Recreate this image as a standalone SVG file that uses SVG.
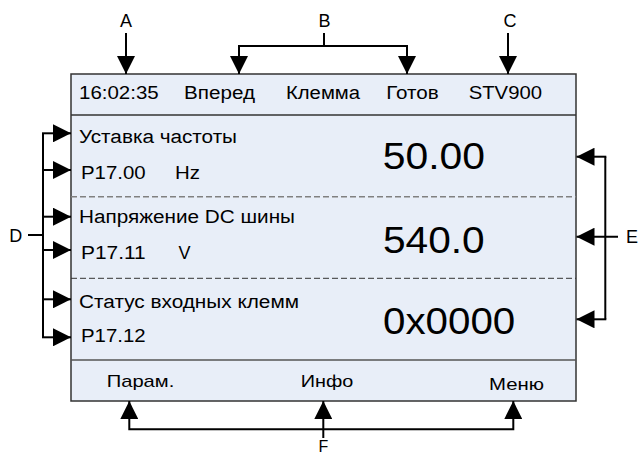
<svg xmlns="http://www.w3.org/2000/svg" width="638" height="457" viewBox="0 0 638 457">
<style>
text{font-family:"Liberation Sans",Arial,sans-serif;fill:#000}
.t{font-size:18px}
.big{font-size:37px}
.ft{font-size:17px}
.lbl{font-size:18px}
.c{stroke:#000;stroke-width:2;fill:none}
</style>
<defs>
<marker id="ah" markerUnits="userSpaceOnUse" markerWidth="18" markerHeight="18" viewBox="0 0 17 17" refX="17" refY="8.5" orient="auto">
<path d="M0,0 L17,8.5 L0,17 Z" fill="#000"/>
</marker>
</defs>
<g id="screen">
<rect x="71" y="74" width="505" height="327" fill="#E8EEF8" stroke="#333" stroke-width="1.5"/>
<line x1="71" y1="115" x2="576" y2="115" stroke="#333" stroke-width="1.5"/>
<line x1="71" y1="360" x2="576" y2="360" stroke="#555" stroke-width="1.5"/>
<line x1="71" y1="196.7" x2="576" y2="196.7" stroke="#808080" stroke-width="1.6" stroke-dasharray="6 3"/>
<line x1="71" y1="278.3" x2="576" y2="278.3" stroke="#333" stroke-width="1" stroke-dasharray="6 3"/>
</g>
<g id="header">
<text class="t" x="79" y="99.3" textLength="79.7" lengthAdjust="spacingAndGlyphs">16:02:35</text>
<text class="t" x="184" y="99.3" textLength="71" lengthAdjust="spacingAndGlyphs">Вперед</text>
<text class="t" x="286" y="99.3" textLength="74" lengthAdjust="spacingAndGlyphs">Клемма</text>
<text class="t" x="386.3" y="99.3" textLength="52.4" lengthAdjust="spacingAndGlyphs">Готов</text>
<text class="t" x="468.7" y="99.3" textLength="73.3" lengthAdjust="spacingAndGlyphs">STV900</text>
</g>
<g id="row1">
<text class="t" x="79" y="142.7" textLength="158" lengthAdjust="spacingAndGlyphs">Уставка частоты</text>
<text class="t" x="81" y="179.3" textLength="64.7" lengthAdjust="spacingAndGlyphs">P17.00</text>
<text class="t" x="175" y="179.3" textLength="25" lengthAdjust="spacingAndGlyphs">Hz</text>
<text class="big" x="382.7" y="169.3" textLength="102.3" lengthAdjust="spacingAndGlyphs">50.00</text>
</g>
<g id="row2">
<text class="t" x="79" y="223.3" textLength="216" lengthAdjust="spacingAndGlyphs">Напряжение DC шины</text>
<text class="t" x="81" y="259" textLength="64.7" lengthAdjust="spacingAndGlyphs">P17.11</text>
<text class="t" x="178.5" y="259">V</text>
<text class="big" x="383" y="252.7" textLength="101.7" lengthAdjust="spacingAndGlyphs">540.0</text>
</g>
<g id="row3">
<text class="t" x="79" y="307.7" textLength="220" lengthAdjust="spacingAndGlyphs">Статус входных клемм</text>
<text class="t" x="81" y="342.3" textLength="64.7" lengthAdjust="spacingAndGlyphs">P17.12</text>
<text class="big" x="383" y="334" textLength="132.3" lengthAdjust="spacingAndGlyphs">0x0000</text>
</g>
<g id="footer">
<text class="ft" x="106.7" y="386.7" textLength="67.6" lengthAdjust="spacingAndGlyphs">Парам.</text>
<text class="ft" x="300.7" y="386.7" textLength="52.6" lengthAdjust="spacingAndGlyphs">Инфо</text>
<text class="ft" x="489" y="390" textLength="55" lengthAdjust="spacingAndGlyphs">Меню</text>
</g>
<g id="labels">
<text class="lbl" x="126" y="26.7" text-anchor="middle">A</text>
<text class="lbl" x="324.5" y="26.7" text-anchor="middle">B</text>
<text class="lbl" x="510" y="26.7" text-anchor="middle">C</text>
<text class="lbl" x="9.3" y="241.7">D</text>
<text class="lbl" x="626" y="243.3">E</text>
<text x="323.5" y="452" text-anchor="middle" font-size="16">F</text>
</g>
<g id="connectors">
<path class="c" d="M126,33 V74" marker-end="url(#ah)"/>
<path class="c" d="M324,33 V46"/>
<path class="c" d="M324,46 H239 V74" marker-end="url(#ah)"/>
<path class="c" d="M324,46 H407 V74" marker-end="url(#ah)"/>
<path class="c" d="M508,33 V74" marker-end="url(#ah)"/>
<path class="c" d="M28,235 H43"/>
<path class="c" d="M43,133.3 V337.3"/>
<path class="c" d="M42,133.3 H71" marker-end="url(#ah)"/>
<path class="c" d="M43,170 H71" marker-end="url(#ah)"/>
<path class="c" d="M43,216.7 H71" marker-end="url(#ah)"/>
<path class="c" d="M43,250 H71" marker-end="url(#ah)"/>
<path class="c" d="M43,299.3 H71" marker-end="url(#ah)"/>
<path class="c" d="M42,337.3 H71" marker-end="url(#ah)"/>
<path class="c" d="M605.3,156.7 V319.3"/>
<path class="c" d="M606.3,156.7 H576.5" marker-end="url(#ah)"/>
<path class="c" d="M618,236.7 H576.5" marker-end="url(#ah)"/>
<path class="c" d="M606.3,319.3 H576.5" marker-end="url(#ah)"/>
<path class="c" d="M323.3,438 V401" marker-end="url(#ah)"/>
<path class="c" d="M323.3,429.3 H129.3 V401" marker-end="url(#ah)"/>
<path class="c" d="M323.3,429.3 H513.3 V401" marker-end="url(#ah)"/>
</g>
</svg>
